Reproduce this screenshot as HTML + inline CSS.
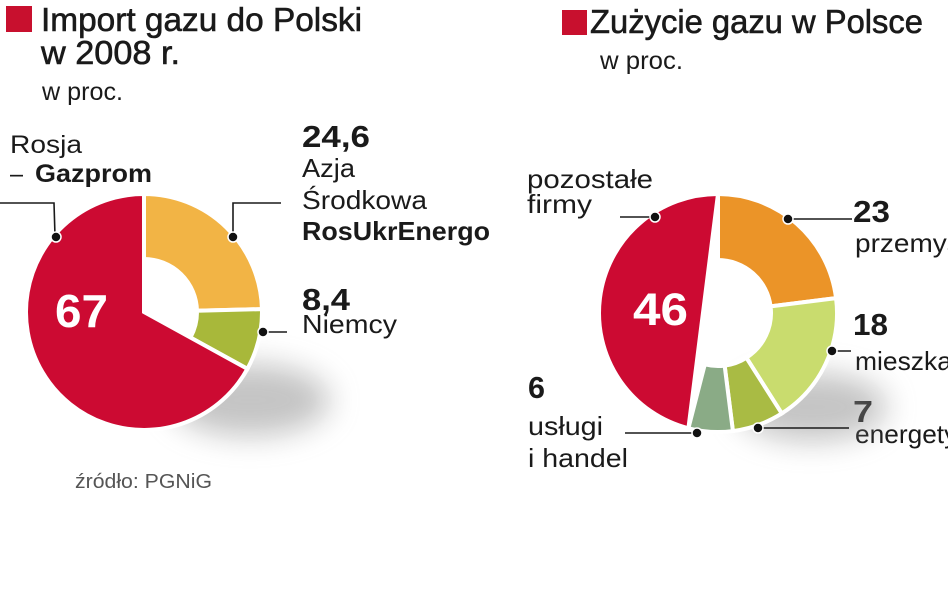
<!DOCTYPE html>
<html>
<head>
<meta charset="utf-8">
<style>
html,body{margin:0;padding:0;background:#fff;}
svg{display:block;}
text{font-family:"Liberation Sans","DejaVu Sans",sans-serif;fill:#1a1a1a;}
.t{stroke:#1a1a1a;stroke-width:0.6;}
.b{font-weight:bold;}
</style>
</head>
<body>
<svg width="948" height="593" viewBox="0 0 948 593" xmlns="http://www.w3.org/2000/svg">
<defs>
<filter id="bl" x="-60%" y="-60%" width="220%" height="220%"><feGaussianBlur stdDeviation="15"/></filter>
</defs>
<rect width="948" height="593" fill="#fff"/>

<!-- LEFT CHART -->
<rect x="6" y="6" width="26" height="26" fill="#c8102e"/>
<text class="t" x="41" y="31" font-size="33" textLength="321" lengthAdjust="spacingAndGlyphs">Import gazu do Polski</text>
<text class="t" x="41" y="64" font-size="33" textLength="139" lengthAdjust="spacingAndGlyphs">w 2008 r.</text>
<text x="42" y="100" font-size="25" textLength="81" lengthAdjust="spacingAndGlyphs">w proc.</text>

<text x="10" y="153" font-size="25" textLength="72" lengthAdjust="spacingAndGlyphs">Rosja</text>
<text x="10" y="182" font-size="25" textLength="13" lengthAdjust="spacingAndGlyphs">–</text>
<text class="b" x="35" y="182" font-size="25" textLength="117" lengthAdjust="spacingAndGlyphs">Gazprom</text>

<text class="b" x="302" y="147" font-size="31" textLength="68" lengthAdjust="spacingAndGlyphs">24,6</text>
<text x="302" y="177" font-size="26" textLength="53" lengthAdjust="spacingAndGlyphs">Azja</text>
<text x="302" y="209" font-size="26" textLength="125" lengthAdjust="spacingAndGlyphs">Środkowa</text>
<text class="b" x="302" y="240" font-size="26" textLength="188" lengthAdjust="spacingAndGlyphs">RosUkrEnergo</text>
<text class="b" x="302" y="310" font-size="31" textLength="48" lengthAdjust="spacingAndGlyphs">8,4</text>
<text x="302" y="333" font-size="26" textLength="95" lengthAdjust="spacingAndGlyphs">Niemcy</text>

<ellipse cx="250" cy="400" rx="80" ry="36" fill="#8a8a8a" opacity="0.5" filter="url(#bl)"/>

<g stroke="#fff" stroke-width="4">
<path d="M144,194 A118,118 0 0 1 261.96,309.12 L196.98,310.71 A53,53 0 0 0 144,259 Z" fill="#f2b445"/>
<path d="M261.96,309.12 A118,118 0 0 1 247.40,368.85 L190.45,337.53 A53,53 0 0 0 196.98,310.71 Z" fill="#a8b83a"/>
<path d="M144,312 L247.40,368.85 A118,118 0 1 1 144,194 Z" fill="#cc0a32"/>
</g>
<text class="b" x="55" y="327" font-size="46" textLength="53" lengthAdjust="spacingAndGlyphs" style="fill:#fff">67</text>

<g stroke="#1a1a1a" stroke-width="1.6" fill="none">
<polyline points="0,203 54,203 55,236"/>
<polyline points="233,236 233,203 281,203"/>
<polyline points="263,332 287,332"/>
</g>
<g fill="#111" stroke="#fff" stroke-width="1.5">
<circle cx="56" cy="237" r="5"/>
<circle cx="233" cy="237" r="5"/>
<circle cx="263" cy="332" r="5"/>
</g>

<text x="75" y="488" font-size="20" textLength="137" lengthAdjust="spacingAndGlyphs" style="fill:#555">źródło: PGNiG</text>

<!-- RIGHT CHART -->
<rect x="562" y="10" width="25" height="25" fill="#c8102e"/>
<text class="t" x="590" y="33" font-size="33" textLength="333" lengthAdjust="spacingAndGlyphs">Zużycie gazu w Polsce</text>
<text x="600" y="69" font-size="25" textLength="83" lengthAdjust="spacingAndGlyphs">w proc.</text>

<text x="527" y="188" font-size="26" textLength="126" lengthAdjust="spacingAndGlyphs">pozostałe</text>
<text x="527" y="213" font-size="26" textLength="65" lengthAdjust="spacingAndGlyphs">firmy</text>

<text class="b" x="853" y="222" font-size="31" textLength="37" lengthAdjust="spacingAndGlyphs">23</text>
<text x="855" y="252" font-size="26" textLength="112" lengthAdjust="spacingAndGlyphs">przemysł</text>
<text class="b" x="853" y="335" font-size="31" textLength="35" lengthAdjust="spacingAndGlyphs">18</text>
<text x="855" y="370" font-size="26" textLength="138" lengthAdjust="spacingAndGlyphs">mieszkańcy</text>
<text class="b" x="853" y="422" font-size="31" textLength="20" lengthAdjust="spacingAndGlyphs">7</text>
<text x="855" y="443" font-size="26" textLength="130" lengthAdjust="spacingAndGlyphs">energetyka</text>

<text class="b" x="528" y="398" font-size="31" textLength="17" lengthAdjust="spacingAndGlyphs">6</text>
<text x="528" y="435" font-size="26" textLength="75" lengthAdjust="spacingAndGlyphs">usługi</text>
<text x="528" y="467" font-size="26" textLength="100" lengthAdjust="spacingAndGlyphs">i handel</text>

<ellipse cx="812" cy="407" rx="75" ry="34" fill="#8a8a8a" opacity="0.5" filter="url(#bl)"/>

<g stroke="#fff" stroke-width="4">
<path d="M718,194 A119,119 0 0 1 836.06,298.09 L770.58,306.36 A53,53 0 0 0 718,260 Z" fill="#eb9428"/>
<path d="M836.06,298.09 A119,119 0 0 1 781.76,413.48 L746.40,357.75 A53,53 0 0 0 770.58,306.36 Z" fill="#c9dc6e"/>
<path d="M781.76,413.48 A119,119 0 0 1 732.91,431.06 L724.64,365.58 A53,53 0 0 0 746.40,357.75 Z" fill="#a9bb44"/>
<path d="M732.91,431.06 A119,119 0 0 1 688.41,428.26 L704.82,364.33 A53,53 0 0 0 724.64,365.58 Z" fill="#8aab86"/>
<path d="M718,194 A119,119 0 0 0 688.41,428.26 Z" fill="#cc0a32"/>
</g>
<text class="b" x="633" y="325" font-size="45" textLength="55" lengthAdjust="spacingAndGlyphs" style="fill:#fff">46</text>

<g stroke="#1a1a1a" stroke-width="1.6" fill="none">
<polyline points="620,217 655,217"/>
<polyline points="788,219 852,219"/>
<polyline points="832,351 851,351"/>
<polyline points="758,428 849,428"/>
<polyline points="625,433 697,433"/>
</g>
<g fill="#111" stroke="#fff" stroke-width="1.5">
<circle cx="655" cy="217" r="5"/>
<circle cx="788" cy="219" r="5"/>
<circle cx="832" cy="351" r="5"/>
<circle cx="758" cy="428" r="5"/>
<circle cx="697" cy="433" r="5"/>
</g>
</svg>
</body>
</html>
